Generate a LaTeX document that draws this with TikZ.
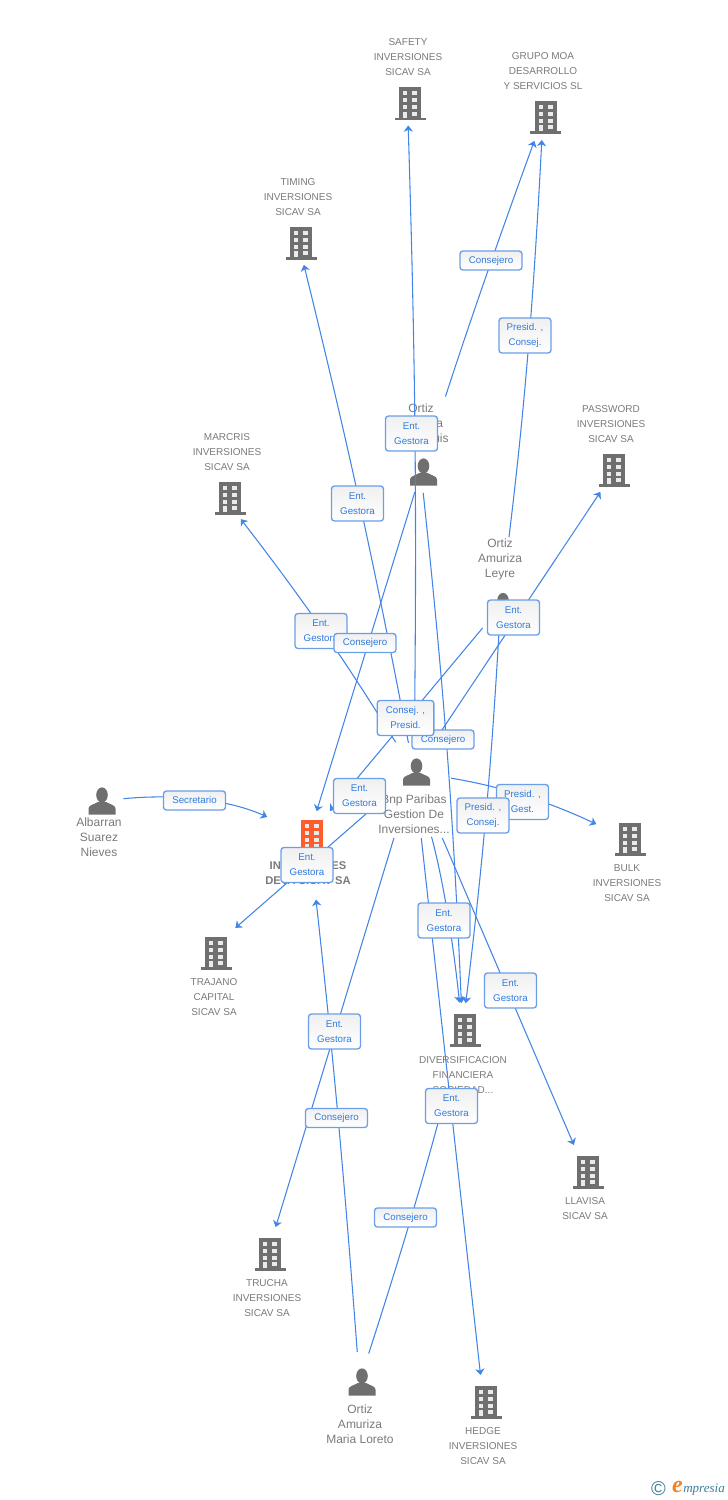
\documentclass[tikz,border=0pt]{standalone}
\usepackage{fontspec}
\setmainfont{Liberation Sans}
\newfontfamily\logofont{Liberation Serif}
\usetikzlibrary{arrows.meta,calc}
\definecolor{linkblue}{HTML}{4285E6}
\definecolor{boxblue}{HTML}{6A9FE8}
\definecolor{labblue}{HTML}{2F7BE0}
\definecolor{icongrey}{HTML}{6F6F6F}
\definecolor{iconorange}{HTML}{FF5C2B}
\definecolor{txtgrey}{HTML}{7A7A7A}
\definecolor{logoteal}{HTML}{3D7F9A}
\definecolor{logoorange}{HTML}{F58220}
\tikzset{
  x=0.75pt,y=-0.75pt,
  link/.style={draw=linkblue,line width=0.8pt},
  arr/.style={link,-{Stealth[length=4.6pt,width=6.9pt,inset=1.3pt]}},
  gapa/.style={shorten <=#1*0.75pt},
  gapb/.style={shorten >=#1*0.75pt},
  entlab/.style={text=txtgrey,align=center,inner sep=0pt,font=\fontsize{7.5}{11.25}\selectfont},
  perlab/.style={text=txtgrey,align=center,inner sep=0pt,font=\fontsize{9}{11.25}\selectfont},
  rel/.style={draw=boxblue,line width=1pt,rounded corners=2.2pt,top color=black!6,bottom color=white,
    text=labblue,align=center,inner sep=0pt,font=\fontsize{7.3}{11.25}\selectfont},
  reltwo/.style={rel,minimum width=39pt,minimum height=26.25pt},
  relone/.style={rel,minimum width=46.5pt,minimum height=14.25pt},
  pics/bldg/.style={code={
    \fill[#1] (-11,-16.5) rectangle (11,14);
    \fill[#1] (-15.5,14) rectangle (15.5,16.5);
    \foreach \wy in {-12.5,-5.5,1.5}{
      \fill[white!92!black] (-7,\wy) rectangle (-2.7,\wy+4.3);
      \fill[white!92!black] (2.3,\wy) rectangle (7,\wy+4.3);
    }
    \fill[white!92!black] (2.3,8) rectangle (7,12);
    \fill[white!92!black] (-7,8) rectangle (-2.7,14);
  }},
  pics/person/.style={code={
    \fill[icongrey] (0,-6) ellipse (5.8 and 7.6);
    \fill[icongrey] (-13.5,13.5) -- (-13.5,7.5) .. controls (-13.5,4) and (-8,3.5) .. (-4.2,1)
      -- (4.2,1) .. controls (8,3.5) and (13.5,4) .. (13.5,7.5) -- (13.5,13.5) -- cycle;
  }},
}
\begin{document}
\begin{tikzpicture}
\useasboundingbox (0,0) rectangle (728,1500);
% entity centres
\coordinate (safety) at (407.5,103.5);
\coordinate (moa) at (543,117);
\coordinate (timing) at (298.5,243);
\coordinate (marcris) at (224.5,498);
\coordinate (password) at (615,470);
\coordinate (luis) at (421,472);
\coordinate (leyre) at (500.5,606.5);
\coordinate (inp) at (414,772);
\coordinate (inversiones) at (309,836);
\coordinate (bulk) at (627.5,839);
\coordinate (albarran) at (99.5,801);
\coordinate (trajano) at (213.5,947);
\coordinate (diversif) at (462.5,1030);
\coordinate (llavisa) at (585.5,1172);
\coordinate (trucha) at (267.5,1254);
\coordinate (loreto) at (359.5,1382);
\coordinate (hedge) at (483.5,1402);
% icons
\foreach \n/\dx/\dy in {safety/2.5/0,moa/2.5/0,timing/2.5/0,marcris/5.5/0,password/-1/0,bulk/2.5/0,trajano/2.5/6,diversif/2.5/0,llavisa/2.5/0,trucha/2.5/0,hedge/2.5/0}
  \pic at ($(\n)+(\dx,\dy)$) {bldg=icongrey};
\pic at ($(inversiones)+(2.5,0)$) {bldg=iconorange};
\foreach \n in {luis,leyre,inp,albarran,loreto}
  \pic at ($(\n)+(2.5,0)$) {person};
% texts
\node[entlab] (tsafety) at (408,57) {SAFETY\\INVERSIONES\\SICAV SA};
\node[entlab] (tmoa) at (543,71) {GRUPO MOA\\DESARROLLO\\Y SERVICIOS SL};
\node[entlab] (ttiming) at (298,197) {TIMING\\INVERSIONES\\SICAV SA};
\node[entlab] (tmarcris) at (227,452) {MARCRIS\\INVERSIONES\\SICAV SA};
\node[entlab] (tpassword) at (611,424) {PASSWORD\\INVERSIONES\\SICAV SA};
\node[perlab] (tluis) at (421,423) {Ortiz\\Amuriza\\Maria Luis};
\node[perlab] (tleyre) at (500,559) {Ortiz\\Amuriza\\Leyre};
\node[perlab] (tinp) at (414,814) {Bnp Paribas\\Gestion De\\Inversiones...};
\node[entlab,font=\fontsize{8.4}{11.25}\selectfont\bfseries] (tinversiones) at (308,873) {INVERSIONES\\DEVA SICAV SA};
\node[perlab] (talbarran) at (99,837) {Albarran\\Suarez\\Nieves};
\node[entlab] (tbulk) at (627,883) {BULK\\INVERSIONES\\SICAV SA};
\node[entlab] (ttrajano) at (214,997) {TRAJANO\\CAPITAL\\SICAV SA};
\node[entlab] (tdiversif) at (463,1075) {DIVERSIFICACION\\FINANCIERA\\SOCIEDAD...};
\node[entlab] (tllavisa) at (585,1208.5) {LLAVISA\\SICAV SA};
\node[entlab] (ttrucha) at (267,1298) {TRUCHA\\INVERSIONES\\SICAV SA};
\node[perlab] (tloreto) at (360,1424) {Ortiz\\Amuriza\\Maria Loreto};
\node[entlab] (thedge) at (483,1446) {HEDGE\\INVERSIONES\\SICAV SA};
% connectors
\draw[arr,gapa=29,gapb=22] (inp.center) to[bend right=1.2] (safety.center);
\draw[arr,gapa=29.7,gapb=22.5] (inp.center) to[bend right=1.5] (timing.center);
\draw[arr,gapa=35,gapb=26.6] (inp.center) to[bend right=3] (marcris.center);
\draw[arr,gapa=34.7,gapb=26.3] (inp.center) -- (password.center);
\draw[arr,gapa=36,gapb=52] (inp.center) -- (inversiones.center);
\draw[arr,gapa=37.7,gapb=34.6] (inp.center) to[bend left=8] (bulk.center);
\draw[arr,gapa=48.6,gapb=29] (inp.center) -- (trajano.center);
\draw[arr,gapa=67,gapb=27.5] (inp.center) to[bend left=4.5] (diversif.center);
\draw[arr,gapa=71.8,gapb=29.4] (inp.center) -- (llavisa.center);
\draw[arr,gapa=69,gapb=28.2] (inp.center) -- (trucha.center);
\draw[arr,gapa=66.4,gapb=27.2] (inp.center) -- (hedge.center);
\draw[arr,gapa=79.3,gapb=25.4] (luis.center) to[bend left=1] (moa.center);
\draw[arr,gapa=21,gapb=26] (luis.center) -- (inversiones.center);
\draw[arr,gapa=21,gapb=27] (luis.center) to[bend left=1.8] (diversif.center);
\draw[arr,gapa=69.8,gapb=23] (leyre.center) to[bend right=2] (moa.center);
\draw[arr,gapa=28,gapb=32.6] (leyre.center) -- (inversiones.center);
\draw[arr,gapa=21,gapb=27] (leyre.center) to[bend left=1.8] (diversif.center);
\draw[arr,gapa=30,gapb=64] (loreto.center) to[bend right=1] (inversiones.center);
\draw[arr,gapa=30,gapb=69.8] (loreto.center) to[bend right=1.6] (diversif.center);
\draw[arr,gapa=24,gapb=46] (albarran.center) to[bend left=15] (inversiones.center);
% connector labels
\node[relone] (l1) at (491,260.5) {Consejero};
\node[reltwo] (l2) at (525,335.5) {Presid. ,\\Consej.};
\node[reltwo] (l3) at (411.5,433.5) {Ent.\\Gestora};
\node[reltwo] (l4) at (357.5,503.5) {Ent.\\Gestora};
\node[reltwo] (l5) at (321,631) {Ent.\\Gestora};
\node[relone] (l6) at (365,643) {Consejero};
\node[reltwo] (l7) at (513.5,617.5) {Ent.\\Gestora};
\node[relone] (l8) at (443,739.5) {Consejero};
\node[reltwo,minimum width=42.5pt] (l9) at (405.5,718) {Consej. ,\\Presid.};
\node[reltwo] (l10) at (359.5,796) {Ent.\\Gestora};
\node[reltwo] (l11) at (522.5,802) {Presid. ,\\Gest.};
\node[reltwo] (l12) at (483,815.5) {Presid. ,\\Consej.};
\node[reltwo] (l13) at (307,865) {Ent.\\Gestora};
\node[relone] (l14) at (194.5,800.5) {Secretario};
\node[reltwo] (l15) at (444,920.5) {Ent.\\Gestora};
\node[reltwo] (l16) at (510.5,990.5) {Ent.\\Gestora};
\node[reltwo] (l17) at (334.5,1031.5) {Ent.\\Gestora};
\node[relone] (l18) at (336.5,1118) {Consejero};
\node[reltwo] (l19) at (451.5,1106) {Ent.\\Gestora};
\node[relone] (l20) at (405.5,1217.5) {Consejero};
% logo
\node[text=logoteal,inner sep=0pt,font=\fontsize{15}{15}\selectfont] (logoc) at (658.5,1489) {©};
\node[text=logoorange,inner sep=0pt,font=\logofont\itshape\bfseries\fontsize{18}{18}\selectfont] (logoe) at (677.5,1487) {e};
\node[text=logoteal,inner sep=0pt,anchor=west,font=\logofont\itshape\fontsize{9.8}{10}\selectfont] (logot) at (683,1490) {mpresia};
\end{tikzpicture}
\end{document}
